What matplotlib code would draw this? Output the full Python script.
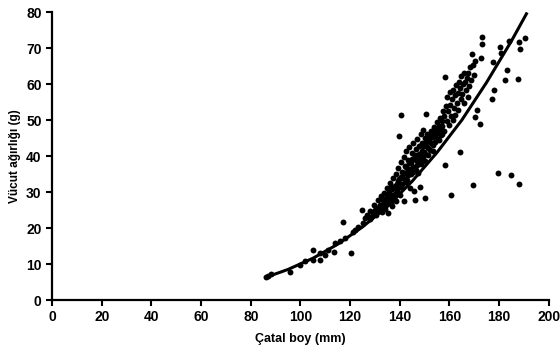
import matplotlib
matplotlib.use("Agg")
import matplotlib.pyplot as plt

plt.rcParams["font.family"] = ["Liberation Sans", "DejaVu Sans"]
plt.rcParams["font.weight"] = "bold"

# fitted length-weight curve
curve_len = [86, 95, 105, 115, 125, 135, 145, 155, 165, 175, 185, 191]
curve_wt = [6.3, 8.5, 11.6, 15.5, 20.3, 26.0, 33.0, 41.0, 50.0, 60.5, 72.0, 79.5]

small_len = [86, 87, 88, 95.8, 100, 102, 104.9, 105, 107.8, 108, 109.9, 111, 113.6,
             114, 116, 117.2, 118, 120.2, 121, 122, 123, 124.6, 125, 126, 127, 128, 128]
small_wt = [6.3, 6.8, 7.2, 7.9, 9.8, 10.8, 13.9, 11.2, 11.1, 13.0, 12.5, 13.8, 13.4,
            15.8, 16.5, 21.6, 17.2, 13.2, 18.8, 19.5, 20.2, 25.0, 21.5, 22.8, 23.5, 24.8, 22.5]

mid_len = [128.5, 129.3, 129.8, 130.2, 130.5, 130.9, 131.4, 131.7, 132.2, 132.6, 132.9,
           133.1, 133.5, 133.8, 134.0, 134.2, 134.6, 134.9, 135.3, 135.5, 135.8, 136.1,
           136.4, 136.7, 136.9, 137.0, 137.3, 137.6, 137.9, 138.2, 138.5, 138.6, 138.8,
           139.0, 139.3, 139.5, 139.7, 140.0, 140.3, 140.3, 140.6, 140.9, 141.2, 141.5,
           141.7, 141.9, 142.2, 142.5, 142.8, 143.0, 143.3, 143.6, 143.9, 144.1, 144.4,
           144.7, 145.0, 145.2, 145.5, 145.8, 146.1, 146.1, 146.4, 146.7, 147.0, 147.2,
           147.5, 147.8, 148.1, 148.1, 148.4, 148.7, 149.0, 149.3, 149.5, 149.8]
mid_wt = [23.0, 24.1, 26.4, 25.0, 23.6, 25.7, 27.9, 24.8, 26.3, 28.8, 24.5,
          25.2, 27.1, 29.6, 25.3, 26.0, 28.4, 31.2, 24.1, 27.3, 29.9, 32.6,
          26.7, 30.8, 26.2, 28.6, 33.9, 31.4, 27.8, 29.5, 35.1, 27.4, 32.3,
          30.1, 36.8, 45.6, 33.6, 29.2, 38.4, 51.4, 31.7, 35.5, 34.0, 39.6,
          27.5, 32.8, 37.2, 41.3, 35.6, 33.4, 39.0, 36.4, 42.5, 31.0, 38.2,
          34.9, 40.8, 37.0, 43.7, 30.3, 39.5, 27.8, 36.1, 41.9, 44.6, 38.3,
          35.2, 42.7, 31.5, 40.1, 46.0, 37.8, 43.5, 39.6, 47.3, 41.2]

core_len = [132.5, 133.2, 134.4, 135.1, 135.9, 136.6, 137.4, 138.0, 138.7, 139.2,
            139.9, 140.5, 141.0, 141.6, 142.1, 142.7, 143.2, 143.8, 144.3, 144.9,
            145.4, 146.0, 146.6, 147.1, 147.7, 148.3, 148.9, 149.4, 150.0, 150.7,
            151.3, 152.0, 152.6, 153.3, 154.0, 154.6, 155.2, 155.8, 156.4, 157.0]
core_wt = [25.5, 27.8, 27.0, 29.4, 28.1, 31.5, 29.3, 31.8, 30.6, 33.0,
           31.5, 34.2, 32.3, 35.4, 33.6, 36.9, 34.8, 38.0, 36.2, 39.1,
           35.5, 40.2, 38.9, 37.4, 40.6, 38.5, 41.4, 42.8, 40.6, 44.0,
           42.2, 44.9, 46.2, 43.1, 45.8, 47.4, 46.6, 44.5, 48.0, 46.2]

big_len = [150.1, 150.1, 150.3, 150.5, 150.6, 150.9, 151.2, 151.5, 151.8, 152.1, 152.4,
           152.7, 153.0, 153.2, 153.5, 153.8, 154.1, 154.4, 154.7, 155.0, 155.3, 155.6,
           155.9, 156.2, 156.5, 156.8, 157.1, 157.4, 157.7, 158.0, 158.4, 158.4, 158.6,
           158.9, 159.2, 159.5, 159.8, 160.1, 160.4, 160.7, 160.7, 161.0, 161.3, 161.5,
           161.8, 162.1, 162.4, 162.7, 163.0, 163.3, 163.6, 164.0, 164.2, 164.2, 164.5,
           164.8, 165.1, 165.4, 165.7, 166.0, 166.2, 166.5, 166.9, 167.3, 167.5, 167.8,
           168.2, 168.6, 169.1, 169.3, 169.4, 169.7, 170.2, 170.9, 170.2]
big_wt = [28.4, 45.1, 38.7, 51.7, 42.9, 46.0, 40.4, 44.2, 45.5, 41.8, 47.0,
          43.6, 46.2, 41.5, 45.3, 48.0, 43.9, 47.2, 46.0, 49.5, 44.8, 48.4,
          47.1, 50.5, 45.9, 49.8, 48.3, 52.5, 51.0, 47.0, 62.0, 37.5, 53.9,
          49.8, 56.5, 52.4, 48.6, 57.9, 54.3, 29.2, 51.0, 55.8, 49.9, 58.4,
          53.2, 56.9, 51.4, 59.8, 54.6, 57.5, 52.9, 60.6, 41.2, 58.8, 55.7,
          62.3, 57.1, 60.1, 54.8, 63.0, 60.6, 58.2, 61.7, 56.4, 63.0, 59.5,
          64.6, 61.2, 68.2, 31.9, 65.3, 62.4, 66.4, 52.8, 50.9]

large_len = [172.2, 172.6, 173, 173, 177.2, 177.6, 177.9, 179.6, 180.3, 180.6, 182.3,
             183, 183.8, 184.7, 187.6, 187.8, 187.8, 188.5, 190.6]
large_wt = [48.9, 67.1, 73, 71, 55.8, 66.2, 58.3, 35.4, 70.4, 68.5, 61.1,
            63.9, 72, 34.7, 61.4, 71.8, 32.2, 69.6, 72.9]

fish_len = small_len + mid_len + core_len + big_len + large_len
fish_wt = small_wt + mid_wt + core_wt + big_wt + large_wt

fig = plt.figure(figsize=(5.6, 3.53), dpi=100)
ax = fig.add_axes([0.093, 0.150, 0.887, 0.816])

ax.scatter(fish_len, fish_wt, s=18, color="black", linewidths=0, zorder=3)
ax.plot(curve_len, curve_wt, color="black", linewidth=2.2, zorder=4)

ax.set_xlim(0, 200)
ax.set_ylim(0, 80)
ax.set_xticks(range(0, 201, 20))
ax.set_yticks(range(0, 81, 10))

for s in ["top", "right"]:
    ax.spines[s].set_visible(False)
for s in ["left", "bottom"]:
    ax.spines[s].set_linewidth(1.6)
ax.tick_params(direction="out", length=4, width=1.5, labelsize=10)

ax.set_xlabel("Çatal boy (mm)", fontsize=9, fontweight="bold", labelpad=6)
ax.set_ylabel("Vücut ağırlığı (g)", fontsize=8.5, fontweight="bold", labelpad=4)

plt.savefig("out.png", dpi=100)
